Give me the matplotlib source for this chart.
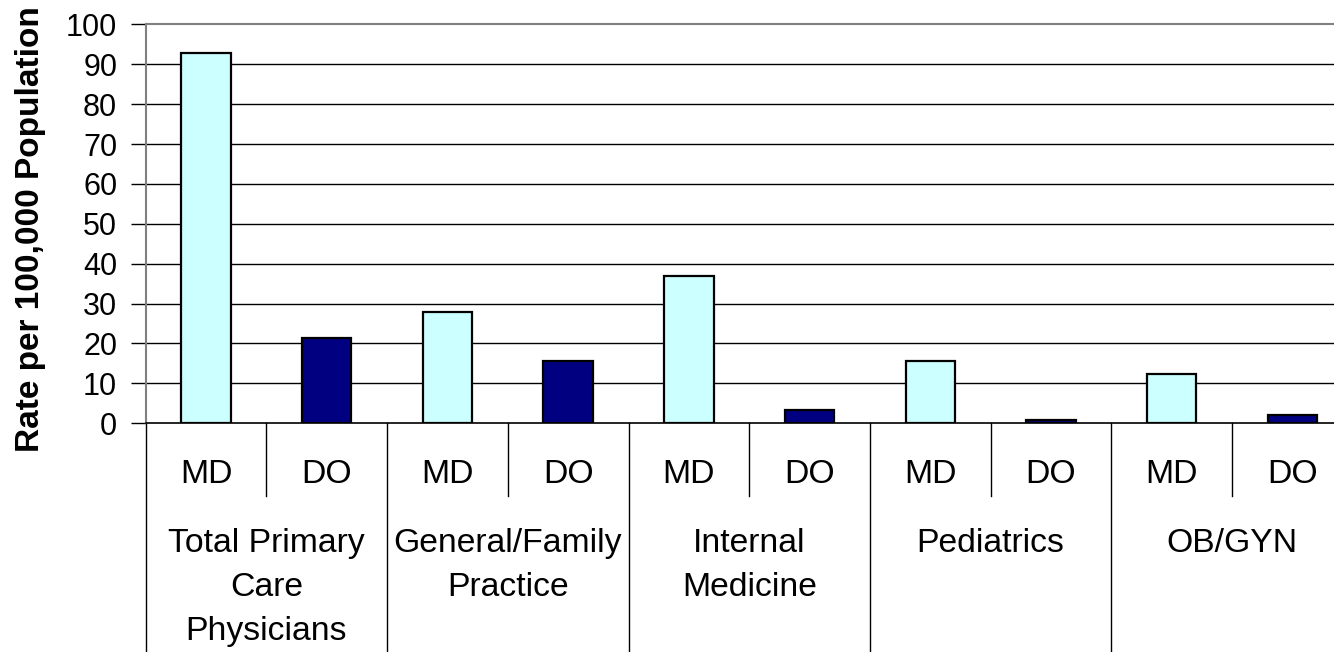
"""Primary care physician rates per 100,000 population, MD vs DO by specialty."""

import matplotlib
matplotlib.use("Agg")
import matplotlib.pyplot as plt
from matplotlib import transforms

plt.rcParams["font.family"] = ["Liberation Sans", "DejaVu Sans"]

groups = ["Total Primary\nCare\nPhysicians", "General/Family\nPractice",
          "Internal\nMedicine", "Pediatrics", "OB/GYN"]
degrees = ["MD", "DO"]
md_rates = [92.8, 27.9, 36.9, 15.6, 12.4]
do_rates = [21.5, 15.6, 3.4, 0.9, 2.1]

MD_COLOR = "#CCFFFF"
DO_COLOR = "#000080"
TICK_FS = 22
CAT_FS = 24.3

W, H = 1334, 652
fig = plt.figure(figsize=(W / 100, H / 100), dpi=100)
left, right, top, bottom = 145.7, 1352.7, 24.3, 423.3
ax = fig.add_axes([left / W, 1 - bottom / H, (right - left) / W, (bottom - top) / H])

# interleave MD/DO into ten slots
values, colors, sublabels = [], [], []
for md, do in zip(md_rates, do_rates):
    values += [md, do]
    colors += [MD_COLOR, DO_COLOR]
    sublabels += degrees
xs = list(range(len(values)))

ax.bar(xs, values, width=0.41, color=colors, edgecolor="black",
       linewidth=1.6, zorder=3)

ax.set_xlim(-0.5, len(values) - 0.5)
ax.set_ylim(0, 100)
yticks = list(range(0, 101, 10))
ax.set_yticks(yticks)
for y in yticks[1:-1]:
    ax.axhline(y, color="black", linewidth=1.0, zorder=1)

ax.tick_params(axis="y", length=10.5, width=1.0, pad=10, labelsize=TICK_FS,
               color="black")
ax.set_xticks([])
ax.spines["right"].set_visible(False)
ax.spines["top"].set_color("#808080")
ax.spines["top"].set_linewidth(1.5)
ax.spines["left"].set_color("#808080")
ax.spines["left"].set_linewidth(1.5)
ax.spines["bottom"].set_color("black")
ax.spines["bottom"].set_linewidth(1.2)

fig.text(31 / W, 1 - 229 / H, "Rate per 100,000 Population", rotation=90,
         ha="center", va="center", fontsize=24, fontweight="bold")

# multi-level category axis below the plot
trans = transforms.blended_transform_factory(ax.transData, fig.transFigure)
y0 = 1 - bottom / H
y_short = 1 - 496 / H
for i, lab in enumerate(sublabels):
    ax.text(xs[i], 1 - 482.7 / H, lab, transform=trans, ha="center",
            va="baseline", fontsize=CAT_FS)
for k in range(len(groups)):
    # short separator between MD and DO
    ax.plot([2 * k + 0.5] * 2, [y0, y_short], transform=trans, color="black",
            linewidth=1.0, clip_on=False)
    # long separator before each group
    ax.plot([2 * k - 0.5] * 2, [y0, 0], transform=trans, color="black",
            linewidth=1.0, clip_on=False)
    for j, line in enumerate(groups[k].split("\n")):
        ax.text(2 * k + 0.5, 1 - (551.7 + 44.2 * j) / H, line,
                transform=trans, ha="center", va="baseline", fontsize=CAT_FS)

fig.savefig("out.png", dpi=100)
